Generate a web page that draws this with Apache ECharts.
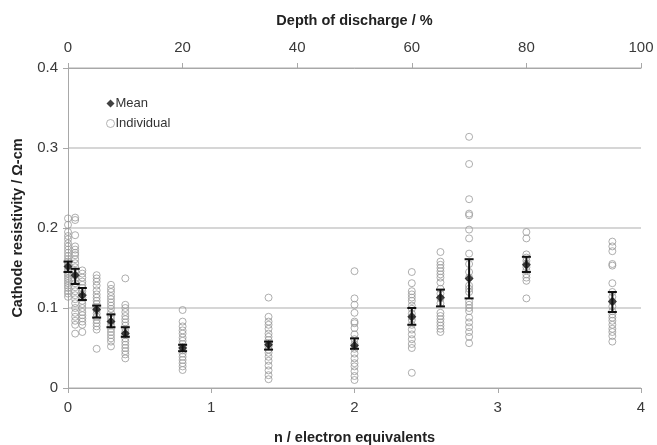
<!DOCTYPE html>
<html>
<head>
<meta charset="utf-8">
<script src="https://cdn.jsdelivr.net/npm/echarts@6/dist/echarts.min.js"></script>
<style>
  html, body { margin: 0; padding: 0; background: #fff; }
  #chart { width: 657px; height: 445px; }
</style>
</head>
<body>
<div id="chart"></div>
<script>
// Electron equivalents (n) at which the cathodes were measured
const nValues = [0, 0.05, 0.1, 0.2, 0.3, 0.4, 0.8, 1.4, 2.0, 2.4, 2.6, 2.8, 3.2, 3.8];

// Individual resistivity measurements (Ω-cm), one list per n value
const individualValues = [
  [0.212, 0.204, 0.195, 0.190, 0.186, 0.181, 0.177, 0.173, 0.169, 0.165, 0.161, 0.158, 0.155, 0.152, 0.149, 0.146, 0.143, 0.140, 0.137, 0.134, 0.131, 0.128, 0.125, 0.121, 0.118, 0.114],
  [0.213, 0.210, 0.191, 0.177, 0.173, 0.169, 0.166, 0.161, 0.156, 0.151, 0.146, 0.141, 0.136, 0.131, 0.126, 0.121, 0.116, 0.111, 0.106, 0.100, 0.094, 0.089, 0.084, 0.079, 0.068],
  [0.147, 0.143, 0.138, 0.133, 0.129, 0.125, 0.121, 0.117, 0.113, 0.109, 0.105, 0.100, 0.095, 0.091, 0.087, 0.083, 0.079, 0.070],
  [0.141, 0.137, 0.133, 0.128, 0.122, 0.117, 0.113, 0.109, 0.105, 0.101, 0.097, 0.093, 0.089, 0.085, 0.081, 0.077, 0.073, 0.049],
  [0.129, 0.124, 0.120, 0.115, 0.111, 0.107, 0.103, 0.099, 0.094, 0.090, 0.086, 0.082, 0.078, 0.074, 0.070, 0.066, 0.062, 0.058, 0.052],
  [0.137, 0.104, 0.100, 0.095, 0.090, 0.086, 0.082, 0.078, 0.074, 0.070, 0.066, 0.062, 0.058, 0.054, 0.050, 0.046, 0.042, 0.037],
  [0.0975, 0.083, 0.077, 0.072, 0.068, 0.063, 0.059, 0.055, 0.051, 0.047, 0.043, 0.039, 0.035, 0.031, 0.027, 0.0225],
  [0.113, 0.089, 0.083, 0.079, 0.074, 0.068, 0.064, 0.060, 0.056, 0.052, 0.048, 0.044, 0.039, 0.034, 0.028, 0.022, 0.016, 0.011],
  [0.146, 0.112, 0.104, 0.094, 0.083, 0.081, 0.075, 0.067, 0.061, 0.055, 0.049, 0.043, 0.037, 0.031, 0.027, 0.021, 0.015, 0.010],
  [0.145, 0.131, 0.121, 0.117, 0.113, 0.109, 0.103, 0.099, 0.093, 0.089, 0.085, 0.079, 0.073, 0.067, 0.061, 0.055, 0.050, 0.019],
  [0.170, 0.158, 0.154, 0.150, 0.146, 0.142, 0.138, 0.132, 0.124, 0.118, 0.112, 0.106, 0.094, 0.090, 0.086, 0.082, 0.078, 0.074, 0.070],
  [0.314, 0.280, 0.236, 0.218, 0.216, 0.198, 0.187, 0.168, 0.155, 0.145, 0.138, 0.128, 0.124, 0.120, 0.108, 0.104, 0.100, 0.096, 0.088, 0.082, 0.076, 0.070, 0.064, 0.056],
  [0.195, 0.187, 0.167, 0.163, 0.159, 0.155, 0.151, 0.147, 0.142, 0.138, 0.134, 0.112],
  [0.183, 0.177, 0.171, 0.155, 0.153, 0.131, 0.120, 0.114, 0.108, 0.102, 0.096, 0.092, 0.088, 0.084, 0.079, 0.074, 0.070, 0.065, 0.058]
];

// Mean resistivity and the lower / upper ends of its error bar
const meanValues = [0.152, 0.141, 0.116, 0.098, 0.083, 0.068, 0.050, 0.054, 0.053, 0.089, 0.113, 0.137, 0.154, 0.108];
const errorLow   = [0.145, 0.130, 0.110, 0.088, 0.076, 0.064, 0.046, 0.048, 0.049, 0.079, 0.102, 0.112, 0.145, 0.095];
const errorHigh  = [0.158, 0.149, 0.125, 0.103, 0.092, 0.076, 0.054, 0.058, 0.062, 0.100, 0.123, 0.161, 0.164, 0.120];

// Axis ticks
const nTicks = [0, 1, 2, 3, 4];
const dodTicks = [0, 20, 40, 60, 80, 100];
const resistivityTicks = [0, 0.1, 0.2, 0.3, 0.4];

const FONT = '"Liberation Sans", Arial, sans-serif';
const axisGray = '#a8a8a8';
const textColor = '#333333';
const nameStyle = { fontFamily: FONT, fontSize: 14.5, fontWeight: 'bold', color: '#222222' };
const labelStyle = { fontFamily: FONT, fontSize: 15, color: '#3a3a3a' };

const individualData = [];
nValues.forEach((n, i) => {
  individualValues[i].forEach(v => individualData.push([n, v]));
});
const meanData = nValues.map((n, i) => [n, meanValues[i]]);
const errorData = nValues.map((n, i) => [n, errorLow[i], errorHigh[i]]);

const chart = echarts.init(document.getElementById('chart'), null, { renderer: 'canvas' });

chart.setOption({
  animation: false,
  backgroundColor: '#ffffff',
  textStyle: { fontFamily: FONT },
  grid: { left: 68, right: 16, top: 68, bottom: 57, containLabel: false, outerBoundsMode: 'none' },
  legend: {
    orient: 'vertical',
    left: 101,
    top: 92,
    itemGap: 7,
    itemWidth: 8,
    itemHeight: 8,
    textStyle: { fontFamily: FONT, fontSize: 13, color: textColor, padding: [0, 0, 0, -4] },
    data: [
      { name: 'Mean', icon: 'diamond' },
      { name: 'Individual', icon: 'circle', itemStyle: { borderColor: '#a0a0a0', borderWidth: 1 } }
    ]
  },
  xAxis: [
    {
      type: 'value',
      position: 'bottom',
      min: nTicks[0],
      max: nTicks[nTicks.length - 1],
      interval: 1,
      name: 'n / electron equivalents',
      nameLocation: 'middle',
      nameGap: 42,
      nameTextStyle: nameStyle,
      axisLine: { lineStyle: { color: axisGray, width: 1 } },
      axisTick: { show: true, length: 5, lineStyle: { color: axisGray } },
      axisLabel: Object.assign({ margin: 12 }, labelStyle),
      splitLine: { show: false }
    },
    {
      type: 'value',
      position: 'top',
      min: dodTicks[0],
      max: dodTicks[dodTicks.length - 1],
      interval: 20,
      name: 'Depth of discharge / %',
      nameLocation: 'middle',
      nameGap: 40,
      nameTextStyle: nameStyle,
      axisLine: { onZero: false, lineStyle: { color: axisGray, width: 1 } },
      axisTick: { show: true, length: 5, lineStyle: { color: axisGray } },
      axisLabel: Object.assign({ margin: 13 }, labelStyle),
      splitLine: { show: false }
    }
  ],
  yAxis: {
    type: 'value',
    min: resistivityTicks[0],
    max: resistivityTicks[resistivityTicks.length - 1],
    interval: 0.1,
    name: 'Cathode resistivity / Ω-cm',
    nameLocation: 'middle',
    nameGap: 43,
    nameTextStyle: nameStyle,
    axisLine: { show: true, lineStyle: { color: axisGray, width: 1 } },
    axisTick: { show: true, length: 5, lineStyle: { color: axisGray } },
    axisLabel: Object.assign({ margin: 10,
      formatter: v => String(Math.round(v * 10) / 10) }, labelStyle),
    splitLine: { show: true, lineStyle: { color: '#c8c8c8', width: 1.5 } }
  },
  series: [
    {
      name: 'Individual',
      type: 'scatter',
      xAxisIndex: 0,
      symbol: 'circle',
      symbolSize: 7,
      itemStyle: { color: 'rgba(255,255,255,0)', borderColor: '#9a9a9a', borderWidth: 1 },
      data: individualData,
      z: 2
    },
    {
      name: 'Error',
      type: 'custom',
      xAxisIndex: 0,
      data: errorData,
      z: 3,
      renderItem: function (params, api) {
        const x = api.value(0);
        const lo = api.coord([x, api.value(1)]);
        const hi = api.coord([x, api.value(2)]);
        const half = 4.5;
        const style = { stroke: '#111111', lineWidth: 2 };
        return {
          type: 'group',
          children: [
            { type: 'line', shape: { x1: lo[0], y1: lo[1], x2: hi[0], y2: hi[1] }, style: style },
            { type: 'line', shape: { x1: lo[0] - half, y1: lo[1], x2: lo[0] + half, y2: lo[1] }, style: style },
            { type: 'line', shape: { x1: hi[0] - half, y1: hi[1], x2: hi[0] + half, y2: hi[1] }, style: style }
          ]
        };
      }
    },
    {
      name: 'Mean',
      type: 'scatter',
      xAxisIndex: 0,
      symbol: 'diamond',
      symbolSize: 9,
      itemStyle: { color: '#111111' },
      data: meanData,
      z: 4
    }
  ]
});
</script>
</body>
</html>
